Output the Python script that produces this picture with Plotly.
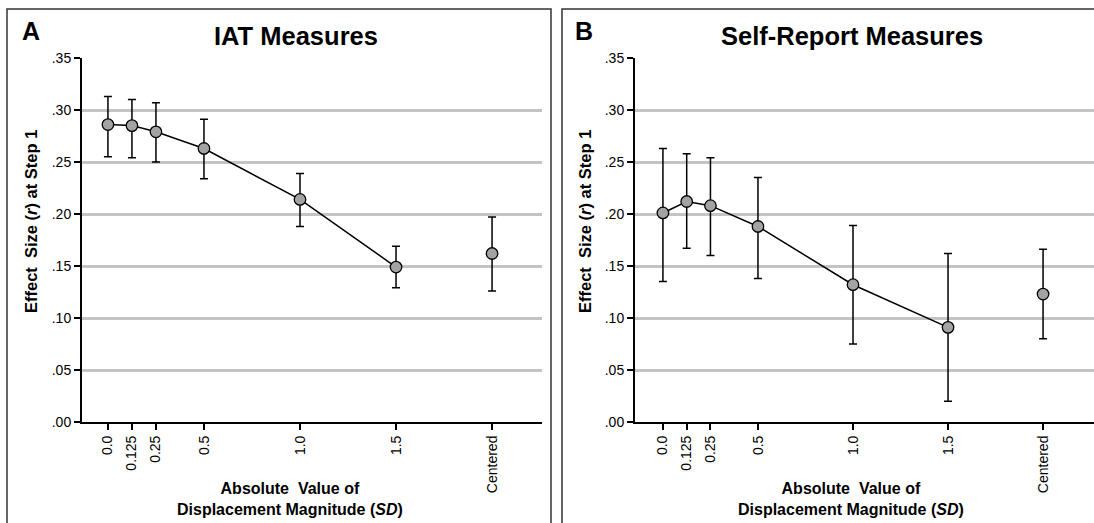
import plotly.graph_objects as go

# ---- data ----
x_labels = ["0.0", "0.125", "0.25", "0.5", "1.0", "1.5", "Centered"]
x_values = [0.0, 0.125, 0.25, 0.5, 1.0, 1.5, 2.0]

iat_r = [0.286, 0.285, 0.279, 0.263, 0.214, 0.149, 0.162]
iat_hi = [0.313, 0.310, 0.307, 0.291, 0.239, 0.169, 0.197]
iat_lo = [0.255, 0.254, 0.250, 0.234, 0.188, 0.129, 0.126]

sr_r = [0.201, 0.212, 0.208, 0.188, 0.132, 0.091, 0.123]
sr_hi = [0.263, 0.258, 0.254, 0.235, 0.189, 0.162, 0.166]
sr_lo = [0.135, 0.167, 0.160, 0.138, 0.075, 0.020, 0.080]

y_tick_values = [0.00, 0.05, 0.10, 0.15, 0.20, 0.25, 0.30, 0.35]
y_tick_labels = [".00", ".05", ".10", ".15", ".20", ".25", ".30", ".35"]

panel_titles = ["IAT Measures", "Self-Report Measures"]
panel_letters = ["A", "B"]

W, H = 1094, 523
FONT = "Liberation Sans, Arial, sans-serif"
MARKER_FILL = "#a3a3a3"

fig = go.Figure()


def add_panel(r, hi, lo, xa, ya):
    n = len(r) - 1
    err_plus = [h - v for h, v in zip(hi, r)]
    err_minus = [v - l for v, l in zip(r, lo)]
    fig.add_trace(go.Scatter(
        x=x_values[:n], y=r[:n], mode="lines+markers",
        line=dict(color="black", width=1.5),
        marker=dict(size=11.5, color=MARKER_FILL, line=dict(color="black", width=1.3)),
        error_y=dict(type="data", symmetric=False, array=err_plus[:n],
                     arrayminus=err_minus[:n], color="black", thickness=1.5, width=4),
        xaxis=xa, yaxis=ya, showlegend=False, hoverinfo="skip"))
    fig.add_trace(go.Scatter(
        x=x_values[n:], y=r[n:], mode="markers",
        marker=dict(size=11.5, color=MARKER_FILL, line=dict(color="black", width=1.3)),
        error_y=dict(type="data", symmetric=False, array=err_plus[n:],
                     arrayminus=err_minus[n:], color="black", thickness=1.5, width=4),
        xaxis=xa, yaxis=ya, showlegend=False, hoverinfo="skip"))


add_panel(iat_r, iat_hi, iat_lo, "x", "y")
add_panel(sr_r, sr_hi, sr_lo, "x2", "y2")

y_dom = [1 - 422 / H, 1 - 58 / H]

xaxis_common = dict(
    tickmode="array", tickvals=x_values, ticktext=x_labels, tickangle=-90,
    showgrid=False, zeroline=False, showline=True, linecolor="black", linewidth=2,
    ticks="outside", ticklen=6, tickwidth=2, tickcolor="black", automargin=False,
    tickfont=dict(family=FONT, size=14, color="black"),
)
yaxis_common = dict(
    range=[0, 0.35], tickmode="array", tickvals=y_tick_values, ticktext=y_tick_labels,
    showgrid=True, gridcolor="#c4c4c4", gridwidth=2.5, zeroline=False,
    showline=True, linecolor="black", linewidth=2, automargin=False,
    ticks="outside", ticklen=6, tickwidth=2, tickcolor="black",
    tickfont=dict(family=FONT, size=14, color="black"),
)

fig.update_layout(
    width=W, height=H, autosize=False,
    margin=dict(l=0, r=0, t=0, b=0, pad=0, autoexpand=False),
    paper_bgcolor="white", plot_bgcolor="white",
    font=dict(family=FONT, color="black"),
    xaxis=dict(domain=[82 / W, 542 / W], range=[-0.135, 2.26], anchor="y", **xaxis_common),
    yaxis=dict(domain=y_dom, anchor="x", **yaxis_common),
    xaxis2=dict(domain=[635 / W, 1.0], range=[-0.147, 2.268], anchor="y2", **xaxis_common),
    yaxis2=dict(domain=y_dom, anchor="x2", **yaxis_common),
)

fig.add_shape(type="rect", xref="paper", yref="paper",
              x0=7 / W, x1=551 / W, y0=-0.05, y1=1 - 9 / H,
              line=dict(color="#333333", width=1.5), layer="below")
fig.add_shape(type="rect", xref="paper", yref="paper",
              x0=562 / W, x1=1.05, y0=-0.05, y1=1 - 9 / H,
              line=dict(color="#333333", width=1.5), layer="below")

title_x = [295.5, 852]
letter_x = [30.5, 584]
ytitle_x = [31, 585]
xtitle_x = [290, 851]

for i in range(2):
    fig.add_annotation(text="<b>%s</b>" % panel_titles[i], xref="paper", yref="paper",
                       x=title_x[i] / W, y=1 - 36 / H, xanchor="center", yanchor="middle",
                       showarrow=False, font=dict(family=FONT, size=25.5, color="black"))
    fig.add_annotation(text="<b>%s</b>" % panel_letters[i], xref="paper", yref="paper",
                       x=letter_x[i] / W, y=1 - 31 / H, xanchor="center", yanchor="middle",
                       showarrow=False, font=dict(family=FONT, size=25, color="black"))
    fig.add_annotation(text="<b>Effect  Size (<i>r</i>) at Step 1</b>", xref="paper", yref="paper",
                       x=ytitle_x[i] / W, y=1 - 222 / H, xanchor="center", yanchor="middle",
                       textangle=-90, showarrow=False,
                       font=dict(family=FONT, size=16.5, color="black"))
    fig.add_annotation(text="<b>Absolute  Value of<br>Displacement Magnitude (<i>SD</i>)</b>",
                       xref="paper", yref="paper",
                       x=xtitle_x[i] / W, y=1 - 498.5 / H, xanchor="center", yanchor="middle",
                       showarrow=False, align="center",
                       font=dict(family=FONT, size=16, color="black"))

fig.write_html(
    "out.html",
    config={"displayModeBar": False},
    post_script="document.body.style.margin='0px';document.body.style.overflow='hidden';",
)
